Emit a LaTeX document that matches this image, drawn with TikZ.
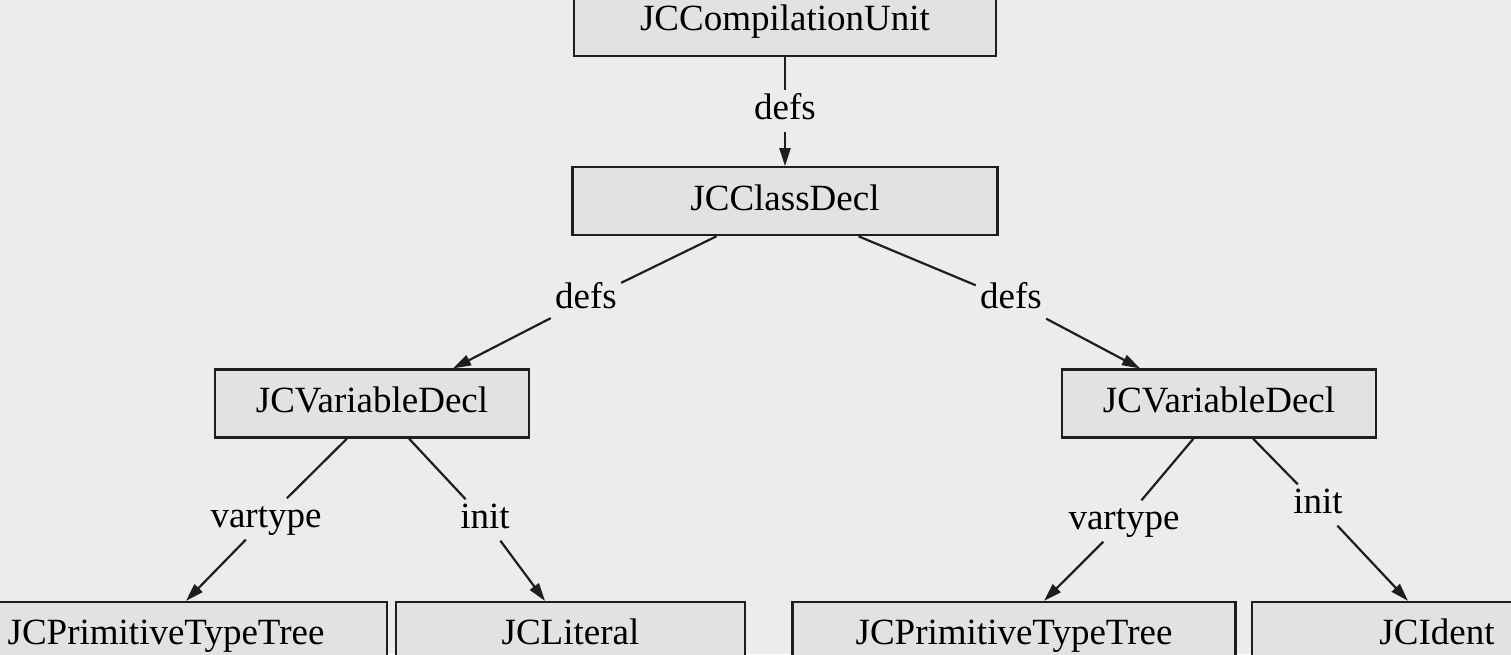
\documentclass[tikz,border=0pt]{standalone}
\usepackage{fontspec}
\setmainfont{Liberation Serif}
\usetikzlibrary{positioning}
\usetikzlibrary{arrows.meta}
\definecolor{pagebg}{RGB}{236,236,236}
\definecolor{boxfill}{RGB}{226,226,226}
\definecolor{inkgray}{RGB}{30,30,30}

\begin{document}
\begin{tikzpicture}[x=0.5pt, y=-0.5pt,
  every node/.style={font=\fontsize{18.5}{22}\selectfont, text height=12.6pt, text depth=3.7pt},
  treebox/.style={draw=inkgray, fill=boxfill, line width=1.1pt, minimum height=34pt, inner sep=0pt},
  edgelbl/.style={inner sep=2pt},
  edge/.style={draw=inkgray, line width=1.1pt},
  tip/.style={edge, -{Triangle[length=9pt,width=5.5pt]}},
  node distance=54.5pt]

  \useasboundingbox (0,0) rectangle (1511,654);
  \clip (0,0) rectangle (1511,654);
  \fill [pagebg] (0,0) rectangle (1511,654);

  \node [treebox, minimum width=211pt] (unit) at (785,22) {JCCompilationUnit};
  \node [treebox, minimum width=212.5pt, below=of unit] (cls) {JCClassDecl};

  \node [treebox, minimum width=157pt] (varL) at (372,403.5) {JCVariableDecl};
  \node [treebox, minimum width=157pt] (varR) at (1219,403.5) {JCVariableDecl};

  \node [treebox, minimum width=221pt] (primL) at (166,636) {JCPrimitiveTypeTree};
  \node [treebox, minimum width=174.5pt] (lit) at (570.5,636) {JCLiteral};
  \node [treebox, minimum width=221.5pt] (primR) at (1014,636) {JCPrimitiveTypeTree};
  \node [treebox, minimum width=185pt] (ident) at (1437,636) {JCIdent};

  % edge labels
  \node [edgelbl] (defsTop) at (785,111) {defs};
  \node [edgelbl] (defsL) at (586,300) {defs};
  \node [edgelbl] (defsR) at (1011,300) {defs};
  \node [edgelbl] (typeL) at (266,519) {vartype};
  \node [edgelbl] (initL) at (485,520) {init};
  \node [edgelbl] (typeR) at (1124,521) {vartype};
  \node [edgelbl] (initR) at (1318,505) {init};

  \draw [edge] (unit) -- (defsTop);
  \draw [tip] (defsTop) -- (cls);

  \draw [edge] ([xshift=-34.25pt]cls.south) -- (defsL);
  \draw [tip] (defsL) -- ([xshift=40.5pt]varL.north);
  \draw [edge] ([xshift=36.75pt]cls.south) -- (defsR);
  \draw [tip] (defsR) -- ([xshift=-39.5pt]varR.north);

  \draw [edge] ([xshift=-12.5pt]varL.south) -- (typeL);
  \draw [tip] (typeL) -- ([xshift=10pt]primL.north);
  \draw [edge] ([xshift=18.5pt]varL.south) -- (initL);
  \draw [tip] (initL) -- ([xshift=-12.75pt]lit.north);

  \draw [edge] ([xshift=-12.75pt]varR.south) -- (typeR);
  \draw [tip] (typeR) -- ([xshift=15pt]primR.north);
  \draw [edge] ([xshift=17pt]varR.south) -- (initR);
  \draw [tip] (initR) -- ([xshift=-14.5pt]ident.north);
\end{tikzpicture}
\end{document}
